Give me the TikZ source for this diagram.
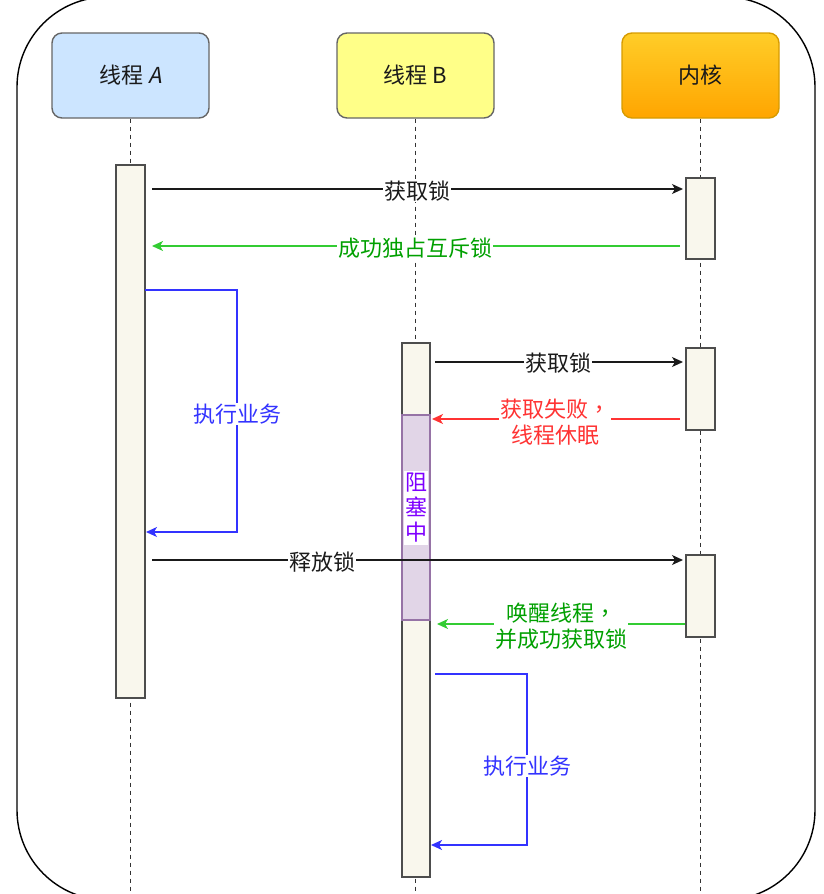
\documentclass[tikz,border=0pt]{standalone}
\usepackage{fontspec}
\setmainfont{Noto Sans CJK SC}
\newfontfamily\slantfont[FakeSlant=0.2]{Noto Sans CJK SC}
\newfontfamily\tcfont{Noto Sans CJK TC}
\usetikzlibrary{arrows.meta}
\definecolor{hdrAfill}{HTML}{CCE5FF}
\definecolor{hdrBfill}{HTML}{FFFF88}
\definecolor{kerTop}{HTML}{FFCD28}
\definecolor{kerBot}{HTML}{FFA500}
\definecolor{kerLine}{HTML}{D79B00}
\definecolor{hdrLine}{HTML}{666666}
\definecolor{actFill}{HTML}{F9F7ED}
\definecolor{actLine}{HTML}{4D4D4D}
\definecolor{blkFill}{HTML}{E1D5E7}
\definecolor{blkLine}{HTML}{9673A6}
\definecolor{blkText}{HTML}{7F00FF}
\definecolor{okLine}{HTML}{33CC33}
\definecolor{okText}{HTML}{00A000}
\definecolor{errRed}{HTML}{FF3333}
\definecolor{jobBlue}{HTML}{3333FF}
\definecolor{msgText}{HTML}{1A1A1A}
\newcommand{\tccomma}{{\tcfont ，}}
\tikzset{
  frame/.style={draw=black, line width=1.4pt, rounded corners=90pt},
  hdr/.style={draw=hdrLine, line width=1.4pt, rounded corners=10pt,
    minimum width=157pt, minimum height=85pt, inner sep=0pt,
    font=\fontsize{22}{26}\selectfont, text=msgText},
  lifeline/.style={draw=black!80, line width=1.2pt, dash pattern=on 4pt off 4pt},
  actbox/.style={draw=actLine, fill=actFill, line width=1.3pt,
    minimum width=29pt, inner sep=0pt},
  blkbox/.style={draw=blkLine, fill=blkFill, line width=1.2pt,
    minimum width=28pt, minimum height=205pt, inner sep=0pt},
  msg/.style={line width=1.4pt, -{Stealth[length=11pt,width=10pt,inset=3pt]}},
  lbl/.style={fill=white, inner sep=1pt, align=center,
    font=\fontsize{22}{26}\selectfont},
}
\begin{document}
\begin{tikzpicture}[x=1pt,y=-1pt]
\useasboundingbox (0,0) rectangle (824,894);
% outer frame
\draw[frame] (17,-3) rectangle (815,900);

% headers
\node[hdr, fill=hdrAfill] (hA) at (130.5,75.5) {线程 {\slantfont A}};
\node[hdr, fill=hdrBfill] (hB) at (415.5,75.5) {线程 B};
\node[hdr, draw=kerLine, top color=kerTop, bottom color=kerBot] (hK) at (700.5,75.5) {内核};

% lifeline ends
\coordinate (eA) at (130.5,894);
\coordinate (eB) at (415.5,894);
\coordinate (eK) at (700.5,894);
\draw[lifeline] (hA.south) -- (eA);
\draw[lifeline] (hB.south) -- (eB);
\draw[lifeline] (hK.south) -- (eK);

% activation boxes
\node[actbox, minimum height=533pt] (aA) at (130.5,431.5) {};
\node[actbox, minimum height=81pt] (k1) at (700.5,218.5) {};
\node[actbox, minimum width=28pt, minimum height=534pt] (aB) at (416,610) {};
\node[actbox, minimum height=82pt] (k2) at (700.5,389) {};
\node[actbox, minimum height=82pt] (k3) at (700.5,596) {};
\node[blkbox] (blk) at (416,517.5) {};
\node[fill=white, inner xsep=1pt, inner ysep=2pt, align=center, text=blkText,
  font=\fontsize{22}{25}\selectfont] (blkt) at (416,508) {阻\\塞\\中};

% message end points
\coordinate (m1s) at (152,189);  \coordinate (m1e) at (683,189);
\coordinate (m2s) at (680,246);  \coordinate (m2e) at (152,246);
\coordinate (m4s) at (435,362);  \coordinate (m4e) at (683,362);
\coordinate (m5s) at (680,419);  \coordinate (m5e) at (432,419);
\coordinate (m6s) at (152,560);  \coordinate (m6e) at (683,560);
\coordinate (m7s) at (685,624);  \coordinate (m7e) at (437,624);
\coordinate (jAs) at (145,290);  \coordinate (jAa) at (237,290);
\coordinate (jAb) at (237,532);  \coordinate (jAe) at (146,532);
\coordinate (jBs) at (435,674);  \coordinate (jBa) at (527,674);
\coordinate (jBb) at (527,845);  \coordinate (jBe) at (431,845);

% messages
\draw[msg, msgText] (m1s) -- (m1e);
\node[lbl, text=msgText] (l1) at (417,191) {获取锁};
\draw[msg, okLine] (m2s) -- (m2e);
\node[lbl, text=okText] (l2) at (415,248) {成功独占互斥锁};
\draw[msg, jobBlue] (jAs) -- (jAa) -- (jAb) -- (jAe);
\node[lbl, text=jobBlue] (l3) at (237,414) {执行业务};
\draw[msg, msgText] (m4s) -- (m4e);
\node[lbl, text=msgText] (l4) at (558,363) {获取锁};
\draw[msg, errRed] (m5s) -- (m5e);
\node[lbl, text=errRed] (l5) at (555,422) {获取失败\tccomma\\线程休眠};
\draw[msg, msgText] (m6s) -- (m6e);
\node[lbl, text=msgText] (l6) at (322,562) {释放锁};
\draw[msg, okLine] (m7s) -- (m7e);
\node[lbl, text=okText] (l7) at (561,626) {唤醒线程\tccomma\\并成功获取锁};
\draw[msg, jobBlue] (jBs) -- (jBa) -- (jBb) -- (jBe);
\node[lbl, text=jobBlue] (l8) at (527,766) {执行业务};
\end{tikzpicture}
\end{document}
